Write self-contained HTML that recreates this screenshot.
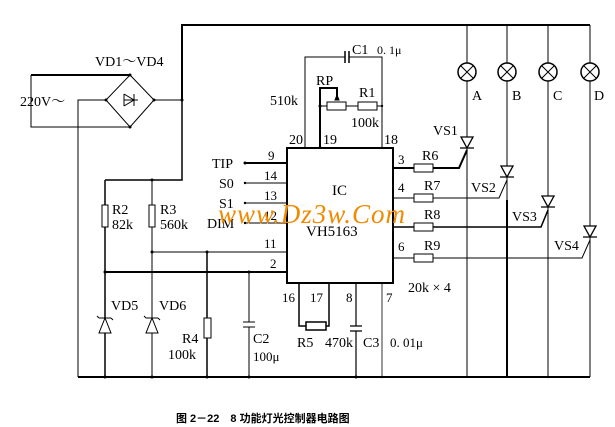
<!DOCTYPE html>
<html><head><meta charset="utf-8"><style>
html,body{margin:0;padding:0;background:#fff;}
svg{display:block;}
text{font-family:"Liberation Serif","Noto Serif CJK SC",serif;fill:#000;}
</style></head><body>
<svg width="615" height="427" viewBox="0 0 615 427" xmlns="http://www.w3.org/2000/svg">
<g stroke="#000" fill="none" stroke-width="1">
<path d="M182 100 V25 H590" stroke-width="2"/>
<path d="M182 100 V180 H105" stroke-width="1.5"/>
<path d="M130 75 L154 100 L130 127 L106 100 Z"/>
<path d="M31 75 H130" stroke-width="2"/>
<path d="M31 75 V127 H130"/>
<path d="M106 100 H78 V377"/>
<path d="M154 100 H182"/>
<path d="M124 100 H138 M124 94 V106 M124 94 L134 100 L124 106 M134 94 V106"/>
<path d="M105 180 V377" stroke-width="1.5"/>
<path d="M152 180 V377"/>
<rect x="102" y="205" width="6" height="22" fill="#fff"/>
<rect x="149" y="205" width="6" height="22" fill="#fff"/>
<path d="M99 333 H111 L105 318 Z M99 318 H111 M97 316 L99 318 M111 318 L113 320" fill="#fff"/>
<path d="M146 333 H158 L152 318 Z M146 318 H158 M144 316 L146 318 M158 318 L160 320" fill="#fff"/>
<path d="M245 163 H287" stroke-width="2"/>
<path d="M245 183 H287 M245 203 H287 M245 223 H287"/>
<path d="M152 252 H287"/>
<path d="M105 272 H287" stroke-width="2"/>
<path d="M207 252 V377" stroke-width="1.5"/>
<rect x="204" y="318" width="7" height="20" fill="#fff"/>
<path d="M249 272 V322 M249 327 V377 M243 322 H255 M243 327 H255"/>
<rect x="287" y="148" width="106" height="135" stroke-width="2"/>
<path d="M305 148 V57 H345 M349 57 H382 V148"/>
<path d="M345 51 V63 M349 51 V63" stroke-width="1.5"/>
<path d="M320 148 V88 H337 V100" stroke-width="2"/>
<path d="M320 106 H327 M346 106 H358 M377 106 H382"/>
<rect x="327" y="102" width="19" height="8" fill="#fff"/>
<rect x="358" y="102" width="19" height="8" fill="#fff"/>
<path d="M337 95 L335 100 H339 Z" fill="#000"/>
<path d="M299 283 V326 H306 M326 326 H329 V283" stroke-width="1.5"/>
<rect x="306" y="322" width="20" height="8" fill="#fff" stroke-width="1.5"/>
<path d="M356 283 V326 M356 331 V377 M350 326 H362 M350 331 H362" stroke-width="1.2"/>
<path d="M382 283 V377" stroke-width="0.8"/>
<path d="M78 377 H590" stroke-width="2"/>
<path d="M393 168 H459 L467 150" stroke-width="2"/>
<path d="M393 198 H499 L507 180"/>
<path d="M393 227 H541 L548 210" stroke-width="1.5"/>
<path d="M393 258 H582 L590 240"/>
<rect x="414" y="164" width="19" height="8" fill="#fff"/>
<rect x="414" y="194" width="19" height="8" fill="#fff"/>
<rect x="414" y="223" width="19" height="8" fill="#fff"/>
<rect x="414" y="254" width="19" height="8" fill="#fff"/>
<path d="M467 25 V377 M507 25 V377 M548 25 V377 M590 25 V377" stroke-width="1"/>
<path d="M507 200 V377" stroke-width="2"/>
<g fill="#fff" stroke-width="1.5">
<circle cx="467" cy="72" r="9"/><circle cx="507" cy="72" r="9"/><circle cx="548" cy="72" r="9"/><circle cx="590" cy="72" r="9"/>
</g>
<path d="M461 66 L473 78 M473 66 L461 78 M501 66 L513 78 M513 66 L501 78 M542 66 L554 78 M554 66 L542 78 M584 66 L596 78 M596 66 L584 78"/>
<g fill="#fff" stroke-width="1.3">
<path d="M461 137 H473 L467 148 Z M460 148 H474"/>
<path d="M501 166 H513 L507 177 Z M500 177 H514"/>
<path d="M542 196 H554 L548 207 Z M541 207 H555"/>
<path d="M584 226 H596 L590 237 Z M583 237 H597"/>
</g>
</g>
<g fill="#000">
<circle cx="182" cy="100" r="1.5"/><circle cx="152" cy="180" r="1.5"/><circle cx="130" cy="75" r="1.5"/><circle cx="130" cy="127" r="1.5"/>
<circle cx="106" cy="100" r="1.5"/><circle cx="154" cy="100" r="1.5"/>
<circle cx="245" cy="163" r="1.5"/><circle cx="245" cy="183" r="1.2"/><circle cx="245" cy="203" r="1.2"/><circle cx="245" cy="223" r="1.2"/>
<circle cx="152" cy="252" r="1.5"/><circle cx="207" cy="252" r="1.5"/><circle cx="105" cy="272" r="1.5"/><circle cx="249" cy="272" r="1.5"/>
<circle cx="320" cy="106" r="1.5"/><circle cx="382" cy="106" r="1.2"/>
<circle cx="105" cy="377" r="1.5"/><circle cx="152" cy="377" r="1.5"/><circle cx="207" cy="377" r="1.5"/><circle cx="249" cy="377" r="1.5"/><circle cx="356" cy="377" r="1.5"/><circle cx="382" cy="377" r="1.2"/><circle cx="548" cy="377" r="1.2"/>
</g>
<g font-size="14">
<text x="95" y="66">VD1～VD4</text>
<text x="20" y="106">220V～</text>
<text x="270" y="105">510k</text>
<text x="352" y="54">C1</text>
<text x="377" y="54" font-size="12">0. 1μ</text>
<text x="316" y="85">RP</text>
<text x="359" y="97">R1</text>
<text x="351" y="127">100k</text>
<text x="289" y="144">20</text>
<text x="323" y="144">19</text>
<text x="384" y="144">18</text>
<text x="212" y="168">TIP</text><text x="268" y="160" font-size="13">9</text>
<text x="219" y="188">S0</text><text x="264" y="180" font-size="13">14</text>
<text x="219" y="208">S1</text><text x="264" y="200" font-size="13">13</text>
<text x="207" y="228">DIM</text><text x="264" y="220" font-size="13">12</text>
<text x="264" y="248" font-size="13">11</text>
<text x="270" y="268" font-size="13">2</text>
<text x="112" y="214">R2</text><text x="112" y="229">82k</text>
<text x="160" y="214">R3</text><text x="160" y="229">560k</text>
<text x="332" y="195" font-size="15">IC</text>
<text x="306" y="236" font-size="15">VH5163</text>
<text x="398" y="164" font-size="13">3</text><text x="422" y="160">R6</text>
<text x="398" y="192" font-size="13">4</text><text x="424" y="190">R7</text>
<text x="424" y="219">R8</text>
<text x="398" y="251" font-size="13">6</text><text x="424" y="250">R9</text>
<text x="408" y="292">20k × 4</text>
<text x="433" y="135">VS1</text>
<text x="471" y="192">VS2</text>
<text x="512" y="221">VS3</text>
<text x="554" y="250">VS4</text>
<text x="472" y="100">A</text><text x="512" y="100">B</text><text x="553" y="100">C</text><text x="594" y="100">D</text>
<text x="282" y="302" font-size="13">16</text><text x="310" y="302" font-size="13">17</text>
<text x="346" y="302" font-size="13">8</text><text x="386" y="302" font-size="13">7</text>
<text x="111" y="310">VD5</text><text x="159" y="310">VD6</text>
<text x="182" y="343">R4</text><text x="168" y="359">100k</text>
<text x="253" y="343">C2</text><text x="253" y="361" font-size="13">100μ</text>
<text x="297" y="347">R5</text><text x="325" y="347">470k</text><text x="363" y="347">C3</text><text x="390" y="347" font-size="13">0. 01μ</text>
</g>
<text x="218" y="223" font-size="27" font-style="italic" fill="#f08a00" style="fill:#f08a00;font-family:'Liberation Serif',serif" letter-spacing="1">www.Dz3w.Com</text>
<text x="176" y="422" font-size="11" font-weight="bold" style="font-family:'Liberation Sans','Noto Sans CJK SC',sans-serif">图 2－22　8 功能灯光控制器电路图</text>
</svg>
</body></html>
